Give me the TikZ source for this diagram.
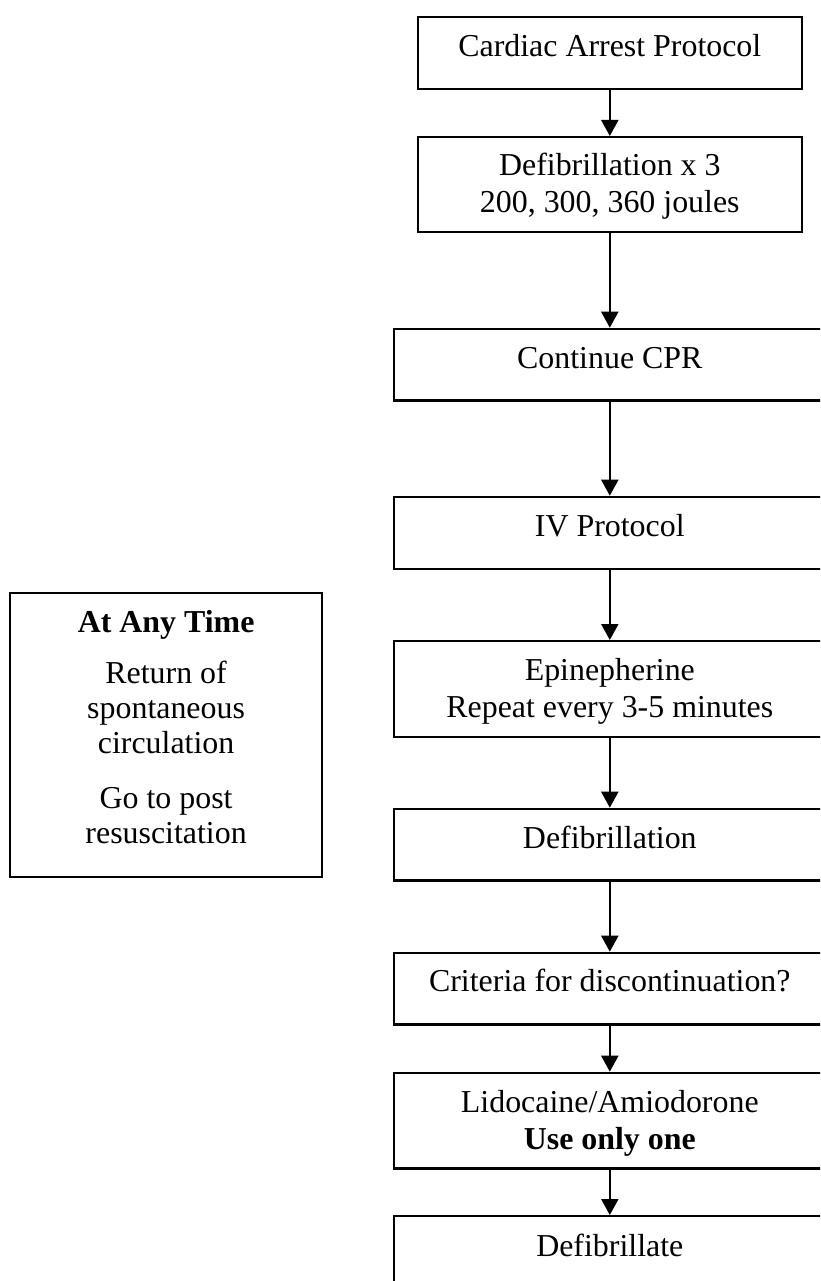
\documentclass[tikz,border=0pt]{standalone}
\usepackage{fontspec}
\setmainfont{Liberation Serif}
\usetikzlibrary{arrows.meta,calc}

\begin{document}
\begin{tikzpicture}[x=1pt,y=-1pt,
  stepbox/.style={draw=black,line width=2.2pt,rectangle,inner sep=0pt,anchor=north west},
  label/.style={anchor=base,align=center,inner sep=0pt,font=\fontsize{31.9}{37}\selectfont},
  notelabel/.style={anchor=base,align=center,inner sep=0pt,font=\fontsize{31.9}{35}\selectfont},
  flow/.style={line width=2.2pt,-{Triangle[width=17pt,length=16pt]}}]
\useasboundingbox (0,0) rectangle (820,1281);
\clip (0,0) rectangle (820,1281);

% main column of steps
\node[stepbox,minimum width=384,minimum height=72]  (b1) at (416.7,15.7)  {};
\node[stepbox,minimum width=384,minimum height=95]  (b2) at (416.7,136)   {};
\node[stepbox,minimum width=432,minimum height=71.6](b3) at (392.7,327.7) {};
\node[stepbox,minimum width=432,minimum height=72]  (b4) at (392.7,495.7) {};
\node[stepbox,minimum width=432,minimum height=95.7](b5) at (392.7,640)   {};
\node[stepbox,minimum width=432,minimum height=71.6](b6) at (392.7,807.7) {};
\node[stepbox,minimum width=432,minimum height=71.6](b7) at (392.7,951.7) {};
\node[stepbox,minimum width=432,minimum height=95.6](b8) at (392.7,1071.7){};
\node[stepbox,minimum width=432,minimum height=72]  (b9) at (392.7,1215)  {};

% labels: the base anchor sits on the last line of each label
\node[label] (t1) at ($(b1.north)+(0,41)$) {Cardiac Arrest Protocol};
\node[label] (t2) at ($(b2.north)+(0,77)$) {Defibrillation x 3\\200, 300, 360 joules};
\node[label] (t3) at ($(b3.north)+(0,41)$) {Continue CPR};
\node[label] (t4) at ($(b4.north)+(0,41)$) {IV Protocol};
\node[label] (t5) at ($(b5.north)+(0,77)$) {Epinepherine\\Repeat every 3-5 minutes};
\node[label] (t6) at ($(b6.north)+(0,41)$) {Defibrillation};
\node[label] (t7) at ($(b7.north)+(0,40)$) {Criteria for discontinuation?};
\node[label] (t8) at ($(b8.north)+(0,77.5)$) {Lidocaine/Amiodorone\\\textbf{Use only one}};
\node[label] (t9) at ($(b9.north)+(0,41)$) {Defibrillate};

% side note
\node[stepbox,minimum width=312,minimum height=284] (side) at (9,592) {};
\node[notelabel] (s1) at ($(side.north)+(0,251)$) {\textbf{At Any Time}\\[16pt]Return of\\spontaneous\\circulation\\[20pt]Go to post\\resuscitation};

% connectors
\draw[flow] (b1.south) -- (b2.north);
\draw[flow] (b2.south) -- (b3.north);
\draw[flow] (b3.south) -- (b4.north);
\draw[flow] (b4.south) -- (b5.north);
\draw[flow] (b5.south) -- (b6.north);
\draw[flow] (b6.south) -- (b7.north);
\draw[flow] (b7.south) -- (b8.north);
\draw[flow] (b8.south) -- (b9.north);
\end{tikzpicture}
\end{document}
